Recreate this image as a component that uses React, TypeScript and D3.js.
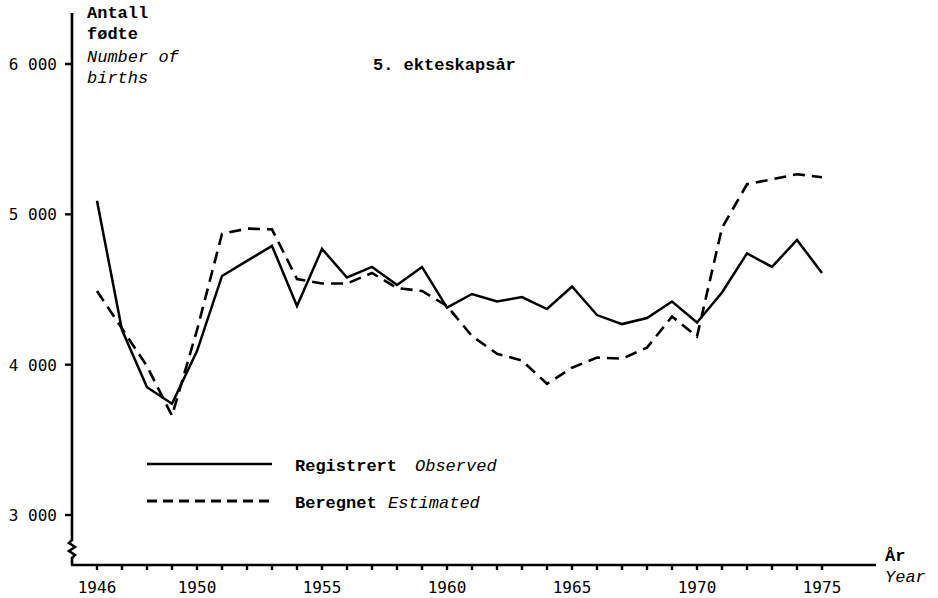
import * as d3 from 'd3'

const years = d3.range(1946, 1976)
// Registrert / Observed
const observed = [
  5090, 4230, 3850, 3740, 4090, 4590, 4690, 4790, 4390, 4770,
  4580, 4650, 4530, 4650, 4380, 4470, 4420, 4450, 4370, 4520,
  4330, 4270, 4310, 4420, 4280, 4480, 4740, 4650, 4830, 4610,
]
// Beregnet / Estimated
const estimated = [
  4490, 4240, 3990, 3660, 4230, 4870, 4905, 4900, 4570, 4540,
  4540, 4610, 4510, 4490, 4390, 4190, 4073, 4027, 3873, 3980,
  4047, 4040, 4113, 4320, 4187, 4910, 5200, 5233, 5267, 5247,
]
const yTicks = [3000, 4000, 5000, 6000]
const yTickLabels = ['3 000', '4 000', '5 000', '6 000']
const xLabelYears = [1946, 1950, 1955, 1960, 1965, 1970, 1975]

const W = 938
const H = 598
const axisX = 72
const axisY = 565
const mono = '"Liberation Mono", "DejaVu Sans Mono", monospace'
const tickFont = '"DejaVu Sans Mono", monospace'

export default function App() {
  const x = d3.scaleLinear().domain([1946, 1975]).range([97, 822])
  const y = d3.scaleLinear().domain([3000, 6000]).range([515, 64])

  const line = d3
    .line<number>()
    .x((_, i) => x(years[i]))
    .y((d) => y(d))

  // little zigzag marking the broken y axis
  const brk = `L${axisX - 3},543 L${axisX + 3},547 L${axisX - 3},551 L${axisX + 3},555 L${axisX},558`

  return (
    <svg
      width={W}
      height={H}
      style={{ position: 'absolute', left: 0, top: 0, background: '#fff' }}
    >
      <path
        d={`M${axisX},13 L${axisX},540 ${brk} L${axisX},${axisY}`}
        fill="none"
        stroke="#000"
        strokeWidth={2.6}
      />
      <line x1={axisX - 1} x2={876} y1={axisY} y2={axisY} stroke="#000" strokeWidth={2.6} />

      {yTicks.map((t, i) => (
        <g key={t}>
          <line x1={axisX - 7} x2={axisX} y1={y(t)} y2={y(t)} stroke="#000" strokeWidth={2.4} />
          <text x={57} y={y(t) + 6} textAnchor="end" fontFamily={tickFont} fontSize={16}>
            {yTickLabels[i]}
          </text>
        </g>
      ))}

      {years.map((yr) => (
        <line key={yr} x1={x(yr)} x2={x(yr)} y1={axisY} y2={axisY + 5} stroke="#000" strokeWidth={2.4} />
      ))}
      {xLabelYears.map((yr) => (
        <text key={yr} x={x(yr)} y={593} textAnchor="middle" fontFamily={tickFont} fontSize={16}>
          {yr}
        </text>
      ))}

      <g fontFamily={mono} fontSize={17}>
        <text x={87} y={18} fontWeight="bold">Antall</text>
        <text x={87} y={39} fontWeight="bold">fødte</text>
        <text x={87} y={62} fontStyle="italic">Number of</text>
        <text x={87} y={83} fontStyle="italic">births</text>
        <text x={373} y={70} fontWeight="bold">5. ekteskapsår</text>
        <text x={885} y={561} fontWeight="bold">År</text>
        <text x={885} y={582} fontStyle="italic">Year</text>
      </g>

      <path d={line(observed) ?? ''} fill="none" stroke="#000" strokeWidth={2.5} />
      <path
        d={line(estimated) ?? ''}
        fill="none"
        stroke="#000"
        strokeWidth={2.6}
        strokeDasharray="12,7"
      />

      {/* legend */}
      <line x1={147} x2={272} y1={464} y2={464} stroke="#000" strokeWidth={2.6} />
      <line x1={147} x2={272} y1={501} y2={501} stroke="#000" strokeWidth={3} strokeDasharray="10,6" />
      <g fontFamily={mono} fontSize={17}>
        <text x={295} y={471} fontWeight="bold">Registrert</text>
        <text x={415} y={471} fontStyle="italic">Observed</text>
        <text x={295} y={508} fontWeight="bold">Beregnet</text>
        <text x={388} y={508} fontStyle="italic">Estimated</text>
      </g>
    </svg>
  )
}
